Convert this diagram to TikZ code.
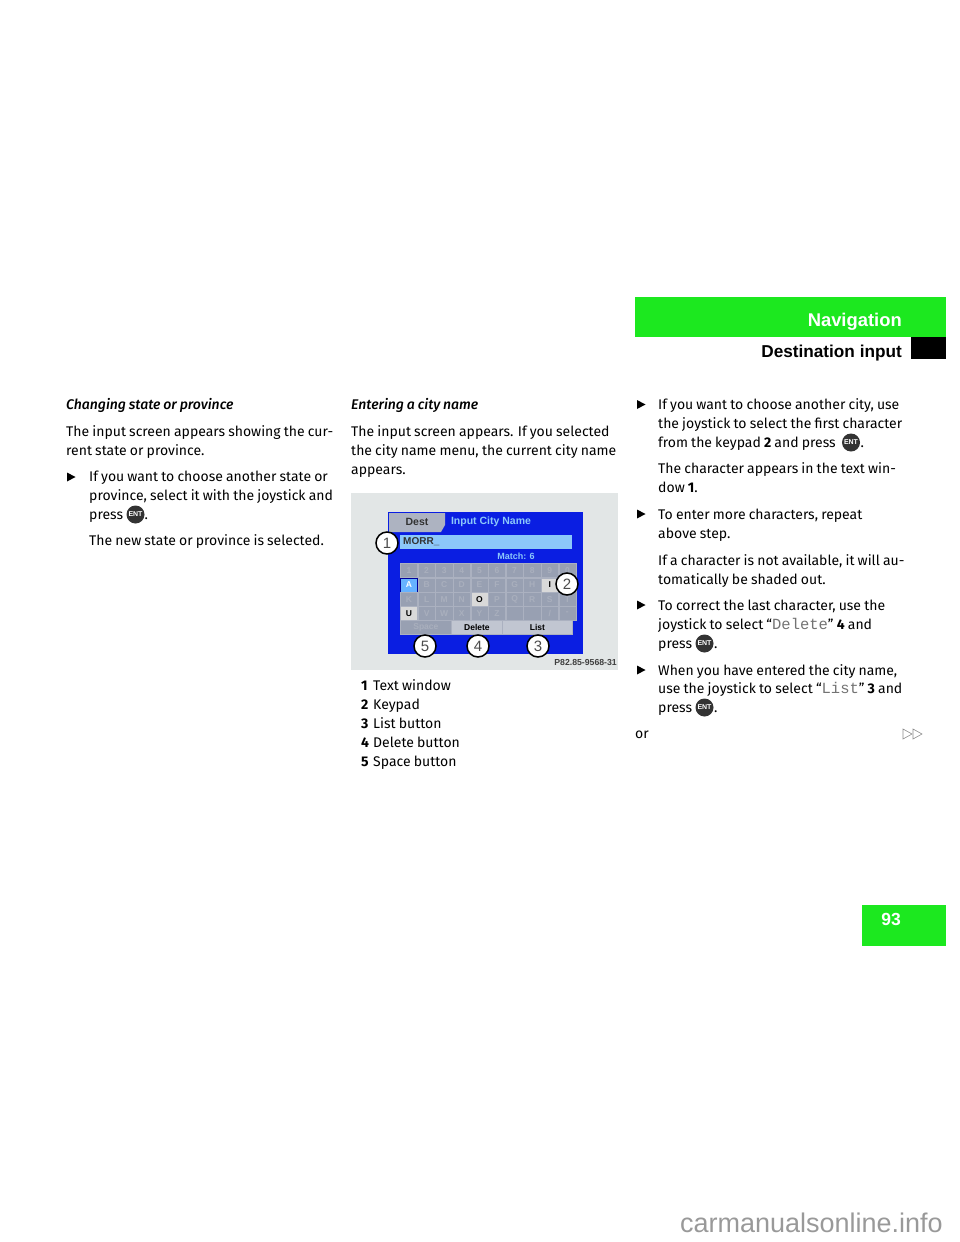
\documentclass[tikz,border=0pt]{standalone}
\usepackage{fontspec}
\setmainfont{Fira Sans}[WordSpace=0.85]
\newfontfamily\headital{Fira Sans Medium Italic}[WordSpace=0.85]
\newfontfamily\imgfont{Liberation Sans}
\newfontfamily\headfont{Liberation Sans}
\newfontfamily\monofont{Liberation Mono}
\usetikzlibrary{matrix,positioning}
\definecolor{pagegreen}{HTML}{1CE81F}
\definecolor{screenblue}{HTML}{0A1EE2}
\definecolor{photogray}{HTML}{E2E6E6}
\definecolor{windowblue}{HTML}{8CC8FA}
\definecolor{keygray}{HTML}{98A0B2}
\definecolor{keyline}{HTML}{ABB1C0}
\definecolor{ghostgray}{HTML}{A9AFBD}
\colorlet{monogray}{black!55}
\newcommand{\keyw}{17.2pt}
\newcommand{\keyh}{14pt}
\tikzset{
    txtsty/.style={anchor=base west,inner sep=0pt,font=\fontsize{14}{16}\selectfont},
    headsty/.style={txtsty,font=\headital\fontsize{14}{16}\selectfont},
    titlesty/.style={anchor=base east,inner sep=0pt,font=\headfont\fontsize{17.2}{20}\selectfont\bfseries},
    entsty/.style={circle,fill=black!80,text=white,minimum size=18pt,inner sep=0pt,font=\imgfont\fontsize{7}{8}\selectfont\bfseries},
    callsty/.style={circle,draw=black,line width=1.5pt,fill=white,minimum size=22pt,inner sep=0pt,text=black!70,font=\imgfont\fontsize{15}{16}\selectfont},
    keysty/.style={draw=keyline,line width=0.4pt,outer sep=0pt,fill=keygray,text=ghostgray,minimum width=\keyw,minimum height=\keyh,inner sep=0pt,anchor=center,font=\imgfont\fontsize{8.5}{10}\selectfont\bfseries},
    litsty/.style={fill=black!15,text=black},
    selsty/.style={fill=blue!50!cyan!60,draw=blue!60!black,text=white},
    btnsty/.style={keysty,anchor=north west},
    scrsty/.style={inner sep=0pt,font=\imgfont\fontsize{9}{10}\selectfont\bfseries},
}
\newcommand{\mono}[1]{{\monofont\fontsize{15.5}{16}\selectfont\color{monogray}#1}}
\begin{document}
\begin{tikzpicture}[x=1pt,y=-1pt]
  \useasboundingbox (0,0) rectangle (960,1242);

  % tabs
  \fill[pagegreen] (635,297) rectangle (946,337);
  \fill[black] (911,337) rectangle (946,359);
  \fill[pagegreen] (862,905) rectangle (946,946);
  \node[titlesty,text=white,font=\headfont\fontsize{18.4}{20}\selectfont\bfseries] (navtitle) at (902,326.5) {Navigation};
  \node[titlesty] (desttitle) at (902,357) {Destination input};
  \node[inner sep=0pt,text=white,font=\headfont\fontsize{17.5}{20}\selectfont\bfseries] (pagenum) at (891,919.5) {93};

  % left column
  \foreach \by/\ltext [count=\i] in {436/The input screen appears showing the cur-,455/rent state or province.}
    \node[txtsty] (a\i) at (66,\by) {\ltext};
  \foreach \by/\ltext [count=\i] in {481/If you want to choose another state or,500/{province, select it with the joystick and},519/press,545/The new state or province is selected.}
    \node[txtsty] (b\i) at (89,\by) {\ltext};
  \node[headsty] (ahead) at (66,409) {Changing state or province};
  \node[entsty] (enta) at (135.5,514.5) {ENT};
  \node[txtsty] (dota) at (144.5,519) {.};

  % middle column
  \node[headsty] (bhead) at (351,409) {Entering a city name};
  \foreach \by/\ltext [count=\i] in {436/The input screen appears. If you selected,455/the city name menu{,} the current city name,474/appears.}
    \node[txtsty] (c\i) at (351,\by) {\ltext};

  % screen photo
  \fill[photogray] (351,493) rectangle (618,670);
  \fill[screenblue] (388,512) rectangle (583,654);
  \fill[keygray!80!white] (389,513) -- (445,513) -- (445,525) -- (441,532) -- (389,532) -- cycle;
  \fill[windowblue] (400,535) rectangle (572,549);
  \node[scrsty,text=black!80,font=\imgfont\fontsize{10.5}{12}\selectfont\bfseries] (tabdest) at (417,522) {Dest};
  \node[scrsty,text=windowblue,font=\imgfont\fontsize{10.5}{12}\selectfont\bfseries] (tabcity) at (491,522) {Input City Name};
  \node[scrsty,anchor=west,text=black!80,font=\imgfont\fontsize{10}{12}\selectfont\bfseries] (morr) at (403,542) {MORR\_};
  \node[scrsty,text=windowblue] (match) at (516,556) {Match: 6};
  \matrix (K) [matrix of nodes,
              nodes = {keysty},
              nodes in empty cells,
              row sep=0pt, column sep=0pt,
              inner sep=0pt, anchor=north west,
              ampersand replacement=\&] at (400,563)
  {
  1 \& 2 \& 3 \& 4 \& 5 \& 6 \& 7 \& 8 \& 9 \& 0\\
  |[selsty]|A \& B \& C \& D \& E \& F \& G \& H \& |[litsty]|I \& \\
  K \& L \& M \& N \& |[litsty]|O \& P \& Q \& R \& S \& T\\
  |[litsty]|U \& V \& W \& X \& Y \& Z \& \& \& / \& -\\
  };
  \node[btnsty,minimum width=51pt] (btnspace) at (K-4-1.south west) {Space};
  \node[btnsty,fill=keygray!60!white,text=black,minimum width=51pt] (btndelete) at (btnspace.north east) {Delete};
  \node[btnsty,fill=keygray!60!white,text=black,minimum width=70pt] (btnlist) at (btndelete.north east) {List};
  \node[callsty] (call1) at (387,543) {1};
  \node[callsty] (call2) at (567,584) {2};
  \node[callsty] (call3) at (538,646) {3};
  \node[callsty] (call4) at (478,646) {4};
  \node[callsty] (call5) at (425,646) {5};
  \node[scrsty,anchor=east,text=black!75,font=\imgfont\fontsize{8.7}{10}\selectfont\bfseries] (photoref) at (617,663) {P82.85-9568-31};

  % legend
  \foreach \by/\lnum/\ltext in {690/1/Text window,709/2/Keypad,728/3/List button,747/4/Delete button,766/5/Space button}{
    \node[txtsty] (n\lnum) at (361,\by) {\bfseries\lnum};
    \node[txtsty] (t\lnum) at (373,\by) {\ltext};
  }

  % right column
  \foreach \by/\ltext [count=\i] in {409/{If you want to choose another city, use},428/the joystick to select the first character,447/from the keypad \textbf{2} and press,473/The character appears in the text win-,492/dow \textbf{1}.,519/{To enter more characters, repeat},538/above step.,565/{If a character is not available, it will au-},584/tomatically be shaded out.,610/{To correct the last character, use the},629/joystick to select “\mono{Delete}” \textbf{4} and,648/press,675/{When you have entered the city name,},693/use the joystick to select “\mono{List}” \textbf{3} and,712/press}
    \node[txtsty] (d\i) at (658,\by) {\ltext};
  \node[txtsty] (orword) at (635,738) {or};
  \node[entsty] (entb) at (851,442.5) {ENT};
  \node[txtsty] (dotb) at (860.5,447) {.};
  \node[entsty] (entc) at (704.5,643.5) {ENT};
  \node[txtsty] (dotc) at (714,648) {.};
  \node[entsty] (entd) at (704.5,707.5) {ENT};
  \node[txtsty] (dotd) at (714,712) {.};

  % bullets
  \foreach \bx/\by in {67/477,637/404.5,637/514,637/605,637/670}
    \fill (\bx,\by-4.5) -- (\bx+8.5,\by) -- (\bx,\by+4.5) -- cycle;

  % continue mark
  \foreach \bx in {903,913}
    \draw[black!45,line width=0.6pt] (\bx,729) -- (\bx+9,734) -- (\bx,739) -- cycle;

  \node[anchor=base east,inner sep=0pt,text=black!40,font=\imgfont\fontsize{27}{30}\selectfont] (sitename) at (943,1232) {carmanualsonline.info};
\end{tikzpicture}
\end{document}
